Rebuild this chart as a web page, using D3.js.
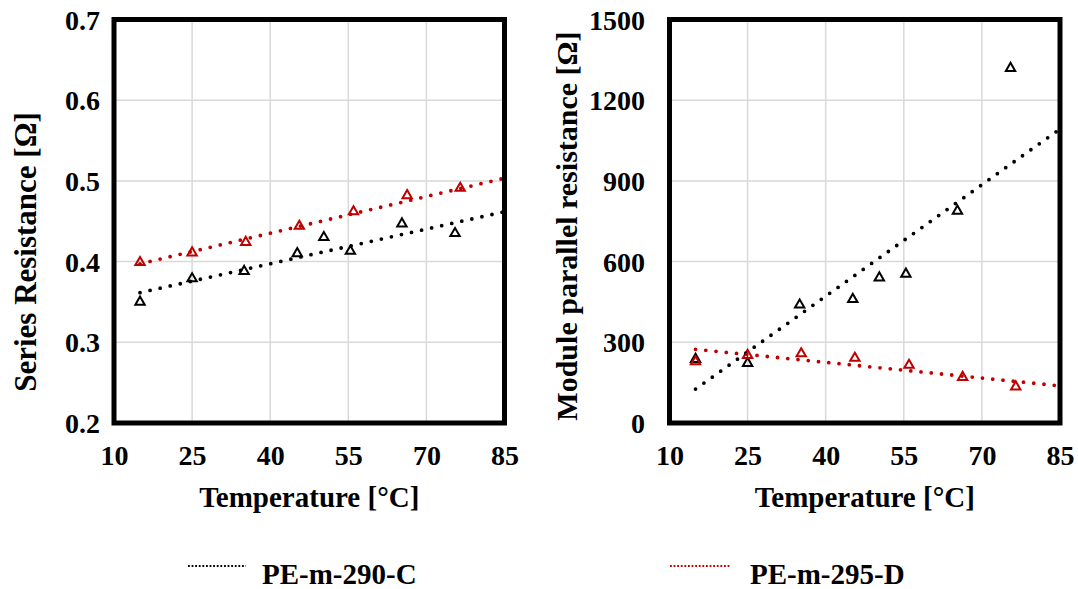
<!DOCTYPE html>
<html><head><meta charset="utf-8">
<script src="https://cdn.jsdelivr.net/npm/d3@7"></script>
<style>
body{margin:0;background:#fff}
text{font-family:"Times New Roman","Liberation Serif",serif;font-weight:bold;fill:#000}
</style>
</head><body>
<svg id="chart" width="1078" height="589"></svg>
<script>
// ---- data ----
const xTicks = [10, 25, 40, 55, 70, 85];
const rsTicks = [0.2, 0.3, 0.4, 0.5, 0.6, 0.7];
const rpTicks = [0, 300, 600, 900, 1200, 1500];
const seriesNames = ["PE-m-290-C", "PE-m-295-D"];
const seriesColors = ["#000000", "#c00000"];

// PE-m-290-C measurement temperatures and values
const tempC = [15, 25, 35, 45.2, 50.3, 55.4, 65.3, 75.5];
const rsC = [0.350, 0.379, 0.388, 0.410, 0.430, 0.413, 0.447, 0.435];
const rpC = [237, 222, 439, 460, 540, 554, 788, 1319];
// PE-m-295-D measurement temperatures and values
const tempD = [15, 25, 35.3, 45.6, 56, 66.3, 76.5];
const rsD = [0.399, 0.411, 0.424, 0.444, 0.462, 0.482, 0.491];
const rpD = [228, 252, 258, 241, 215, 170, 135];

// linear trendlines (start / end)
const trendT = [15, 85];
const rsTrendC = [0.3615, 0.4618];
const rsTrendD = [0.3973, 0.5034];
const rpTrendC = [126, 1093];
const rpTrendD = [274, 138];

// ---- drawing ----
const svg = d3.select("#chart");
svg.append("rect").attr("width", 1078).attr("height", 589).attr("fill", "#fff");

const panels = [
  {x0: 114, x1: 504.5, yDomain: [0.2, 0.7], ticks: rsTicks, fmt: d3.format(".1f"),
   title: "Series Resistance [Ω]", titleX: 25, titleY: 252, titleSize: 31, labelX: 100,
   series: [[tempC, rsC, rsTrendC], [tempD, rsD, rsTrendD]]},
  {x0: 669.5, x1: 1060, yDomain: [0, 1500], ticks: rpTicks, fmt: d3.format("d"),
   title: "Module parallel resistance [Ω]", titleX: 566, titleY: 226, titleSize: 30, labelX: 645,
   series: [[tempC, rpC, rpTrendC], [tempD, rpD, rpTrendD]]}
];
const yTop = 19.5, yBot = 423;
const fontStack = "'Times New Roman','Liberation Serif',serif";

panels.forEach(p => {
  const x = d3.scaleLinear().domain([10, 85]).range([p.x0, p.x1]);
  const y = d3.scaleLinear().domain(p.yDomain).range([yBot, yTop]);
  const g = svg.append("g");

  // gridlines
  g.selectAll(".vg").data(xTicks.slice(1, -1)).join("line")
    .attr("x1", d => x(d)).attr("x2", d => x(d))
    .attr("y1", yTop).attr("y2", yBot)
    .attr("stroke", "#d9d9d9").attr("stroke-width", 1.5);
  g.selectAll(".hg").data(p.ticks.slice(1, -1)).join("line")
    .attr("y1", d => y(d)).attr("y2", d => y(d))
    .attr("x1", p.x0).attr("x2", p.x1)
    .attr("stroke", "#d9d9d9").attr("stroke-width", 1.5);

  // axes (labels only)
  const xa = g.append("g").attr("transform", `translate(0,${yBot})`)
    .call(d3.axisBottom(x).tickValues(xTicks).tickSize(0).tickPadding(0));
  xa.select(".domain").remove();
  xa.selectAll("text").attr("y", 42).attr("dy", 0)
    .style("font-size", "28px").style("font-family", fontStack).style("font-weight", "bold");

  const ya = g.append("g").attr("transform", `translate(${p.labelX},0)`)
    .call(d3.axisLeft(y).tickValues(p.ticks).tickFormat(p.fmt).tickSize(0).tickPadding(0));
  ya.select(".domain").remove();
  ya.selectAll("text").attr("x", 0).attr("dy", "0.34em")
    .style("font-size", "28px").style("font-family", fontStack).style("font-weight", "bold");

  // markers
  p.series.forEach((s, i) => {
    const pts = s[0].map((t, k) => [t, s[1][k]]);
    g.selectAll(null).data(pts).join("path")
      .attr("d", d3.symbol(d3.symbolTriangle, 38))
      .attr("transform", d => `translate(${x(d[0])},${y(d[1])})`)
      .attr("fill", "none").attr("stroke", seriesColors[i]).attr("stroke-width", 2);
  });
  // trendlines
  p.series.forEach((s, i) => {
    const pts = trendT.map((t, k) => [t, s[2][k]]);
    g.append("path").datum(pts)
      .attr("d", d3.line().x(d => x(d[0])).y(d => y(d[1])))
      .attr("fill", "none").attr("stroke", seriesColors[i])
      .attr("stroke-width", 3.8).attr("stroke-linecap", "round")
      .attr("stroke-dasharray", "0 10.3");
  });

  // frame
  g.append("rect").attr("x", p.x0).attr("y", yTop)
    .attr("width", p.x1 - p.x0).attr("height", yBot - yTop)
    .attr("fill", "none").attr("stroke", "#000").attr("stroke-width", 5);

  // titles
  g.append("text").attr("x", (p.x0 + p.x1) / 2).attr("y", 507)
    .attr("text-anchor", "middle").style("font-size", "29px").text("Temperature [°C]");
  g.append("text").attr("transform", `translate(${p.titleX},${p.titleY}) rotate(-90)`)
    .attr("text-anchor", "middle").attr("dy", "0.35em")
    .style("font-size", p.titleSize + "px").text(p.title);
});

// legend
const legendPos = [[188, 246, 262], [670, 730, 750]];
seriesNames.forEach((n, i) => {
  const lp = legendPos[i];
  svg.append("line").attr("x1", lp[0]).attr("x2", lp[1]).attr("y1", 566).attr("y2", 566)
    .attr("stroke", seriesColors[i]).attr("stroke-width", 1.8)
    .attr("stroke-dasharray", "1.8 1.8");
  svg.append("text").attr("x", lp[2]).attr("y", 584)
    .style("font-size", "29px").text(n);
});
</script>
</body></html>
